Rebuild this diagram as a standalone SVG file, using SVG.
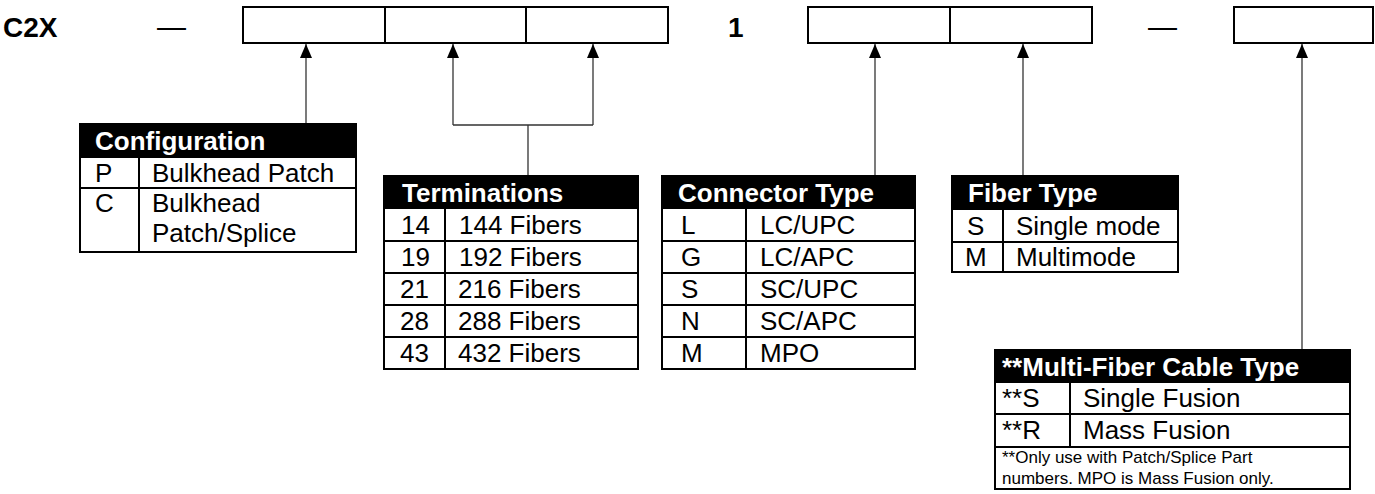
<svg xmlns="http://www.w3.org/2000/svg" width="1375" height="494" viewBox="0 0 1375 494">
<defs>
<marker id="ah" viewBox="0 0 14 12" refX="14" refY="6" markerWidth="14" markerHeight="12" markerUnits="userSpaceOnUse" orient="auto">
<path d="M0,0 L14,6 L0,12 z" fill="#000"/>
</marker>
</defs>
<style>
text{font-family:"Liberation Sans",Arial,sans-serif;font-size:26px;fill:#000}
.code{font-size:28px;font-weight:bold}
.dash{font-size:29px}
.hd{font-weight:bold;fill:#fff}
.note{font-size:17px}
.box{fill:#fff;stroke:#000;stroke-width:2}
.tb{fill:none;stroke:#000;stroke-width:2}
.hbg{fill:#000}
.ln{stroke:#000;stroke-width:2}
.cn{fill:none;stroke:#333;stroke-width:1.3}
</style>
<rect width="1375" height="494" fill="#fff"/>

<g id="partnumber">
<text class="code" x="3" y="37">C2X</text>
<text class="dash" x="157" y="37">—</text>
<rect class="box" x="243" y="7" width="425" height="36"/>
<line class="ln" x1="385" y1="7" x2="385" y2="43"/>
<line class="ln" x1="526" y1="7" x2="526" y2="43"/>
<text class="code" x="728" y="37">1</text>
<rect class="box" x="808" y="7" width="284" height="36"/>
<line class="ln" x1="950" y1="7" x2="950" y2="43"/>
<text class="dash" x="1148" y="37">—</text>
<rect class="box" x="1234" y="7" width="139" height="36"/>
</g>

<g id="connectors">
<path class="cn" d="M306,124 V44" marker-end="url(#ah)"/>
<path class="cn" d="M453,125 V44" marker-end="url(#ah)"/>
<path class="cn" d="M593,125 V44" marker-end="url(#ah)"/>
<path class="cn" d="M453,125 H593 M528,125 V176"/>
<path class="cn" d="M875,176 V44" marker-end="url(#ah)"/>
<path class="cn" d="M1023,176 V44" marker-end="url(#ah)"/>
<path class="cn" d="M1302,350 V44" marker-end="url(#ah)"/>
</g>

<g id="configuration">
<rect class="hbg" x="80" y="124" width="276" height="34"/>
<rect class="tb" x="80" y="124" width="276" height="128"/>
<line class="ln" x1="80" y1="188" x2="356" y2="188"/>
<line class="ln" x1="139" y1="158" x2="139" y2="252"/>
<text class="hd" x="95" y="150">Configuration</text>
<text x="95" y="182">P</text>
<text x="152" y="182">Bulkhead Patch</text>
<text x="95" y="212">C</text>
<text x="152" y="212">Bulkhead</text>
<text x="152" y="242">Patch/Splice</text>
</g>

<g id="terminations">
<rect class="hbg" x="384" y="176" width="254" height="33"/>
<rect class="tb" x="384" y="176" width="254" height="193"/>
<line class="ln" x1="384" y1="241" x2="638" y2="241"/>
<line class="ln" x1="384" y1="273" x2="638" y2="273"/>
<line class="ln" x1="384" y1="305" x2="638" y2="305"/>
<line class="ln" x1="384" y1="337" x2="638" y2="337"/>
<line class="ln" x1="445" y1="209" x2="445" y2="369"/>
<text class="hd" x="402" y="202">Terminations</text>
<text x="401" y="234">14</text><text x="459" y="234">144 Fibers</text>
<text x="401" y="266">19</text><text x="459" y="266">192 Fibers</text>
<text x="400" y="298">21</text><text x="458" y="298">216 Fibers</text>
<text x="400" y="330">28</text><text x="458" y="330">288 Fibers</text>
<text x="400" y="362">43</text><text x="458" y="362">432 Fibers</text>
</g>

<g id="connectortype">
<rect class="hbg" x="662" y="176" width="253" height="33"/>
<rect class="tb" x="662" y="176" width="253" height="193"/>
<line class="ln" x1="662" y1="241" x2="915" y2="241"/>
<line class="ln" x1="662" y1="273" x2="915" y2="273"/>
<line class="ln" x1="662" y1="305" x2="915" y2="305"/>
<line class="ln" x1="662" y1="337" x2="915" y2="337"/>
<line class="ln" x1="746" y1="209" x2="746" y2="369"/>
<text class="hd" x="678" y="202">Connector Type</text>
<text x="681" y="234">L</text><text x="760" y="234">LC/UPC</text>
<text x="681" y="266">G</text><text x="760" y="266">LC/APC</text>
<text x="681" y="298">S</text><text x="760" y="298">SC/UPC</text>
<text x="681" y="330">N</text><text x="760" y="330">SC/APC</text>
<text x="681" y="362">M</text><text x="760" y="362">MPO</text>
</g>

<g id="fibertype">
<rect class="hbg" x="952" y="176" width="226" height="34"/>
<rect class="tb" x="952" y="176" width="226" height="96"/>
<line class="ln" x1="952" y1="242" x2="1178" y2="242"/>
<line class="ln" x1="1003" y1="210" x2="1003" y2="272"/>
<text class="hd" x="968" y="202">Fiber Type</text>
<text x="967" y="235">S</text><text x="1016" y="235">Single mode</text>
<text x="965" y="266">M</text><text x="1016" y="266">Multimode</text>
</g>

<g id="multifiber">
<rect class="hbg" x="995" y="350" width="355" height="33"/>
<rect class="tb" x="995" y="350" width="355" height="139"/>
<line class="ln" x1="995" y1="414" x2="1350" y2="414"/>
<line class="ln" x1="995" y1="447" x2="1350" y2="447"/>
<line class="ln" x1="1070" y1="383" x2="1070" y2="447"/>
<text class="hd" x="1002" y="376">**Multi-Fiber Cable Type</text>
<text x="1002" y="407">**S</text><text x="1083" y="407">Single Fusion</text>
<text x="1002" y="439">**R</text><text x="1083" y="439">Mass Fusion</text>
<text class="note" x="1002" y="463">**Only use with Patch/Splice Part</text>
<text class="note" x="1002" y="484">numbers. MPO is Mass Fusion only.</text>
</g>
</svg>
